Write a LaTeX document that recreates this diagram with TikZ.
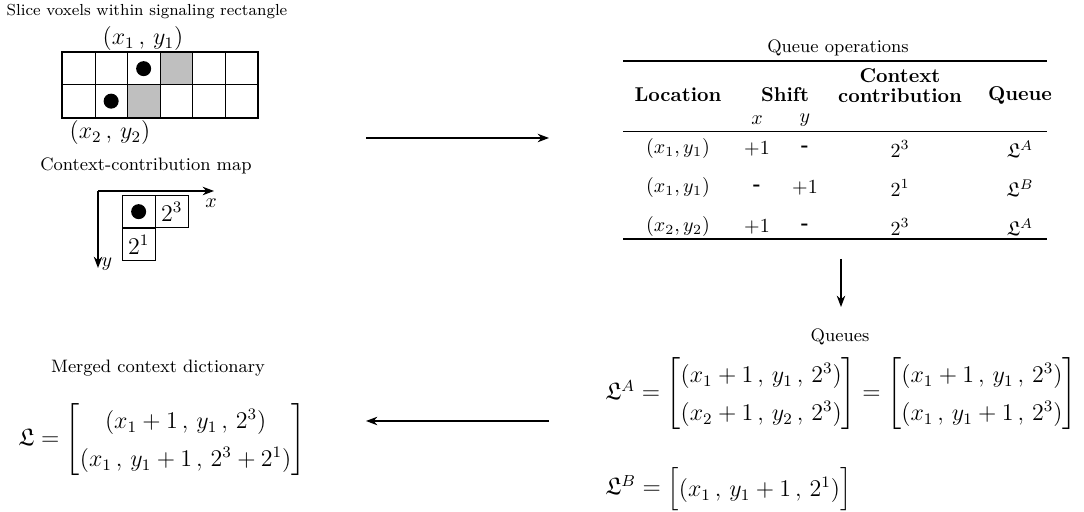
\documentclass[tikz,border=0pt]{standalone}
\usepackage{amsmath,amssymb}
\usepackage{tikz}
\usetikzlibrary{positioning,arrows.meta}

\begin{document}
\begin{tikzpicture}[x=0.5pt,y=-0.5pt,
    captext/.style={font=\small,inner sep=1pt},
    cell/.style={draw,minimum width=16.25pt,minimum height=16.25pt,inner sep=0pt,anchor=north west,font=\large},
    greycell/.style={cell,fill=black!25},
    voxel/.style={circle,fill=black,minimum size=7.5pt,inner sep=0pt},
    arr/.style={-Stealth,semithick},
    hdr/.style={font=\bfseries,align=center},
    eq/.style={font=\large\renewcommand{\arraystretch}{1.35},anchor=west,inner sep=0pt}
  ]
    \useasboundingbox (0,0) rectangle (1084,512);

    % slice with the two voxels
    \node[captext,font=\fontsize{8}{10}\selectfont] (slicecap) at (147,12) {Slice voxels within signaling rectangle};
    \foreach \i in {0,...,5}
      \foreach \j in {0,1}
        \node[cell] (c\i\j) at ({62+32.5*\i},{52+32.5*\j}) {};
    \node[greycell] at (c30.north west) {};
    \node[greycell] at (c21.north west) {};
    \draw[thick] (c00.north west) rectangle (c51.south east);
    \node[voxel] (v1) at (c20) {};
    \node[voxel] (v2) at (c11) {};
    \node[font=\large] (p1) at (143,39) {$(x_1\,,\,y_1)$};
    \node[font=\large] (p2) at (110,133) {$(x_2\,,\,y_2)$};

    % context-contribution map
    \node[captext] (mapcap) at (146,166) {Context-contribution map};
    \node[cell] (m0) at (122,195) {};
    \node[cell] (m1) at (155,195) {$2^3$};
    \node[cell] (m2) at (122,228) {$2^1$};
    \node[voxel] (v3) at (m0) {};
    \coordinate (o) at (98,191);
    \coordinate (xe) at (214,191);
    \coordinate (ye) at (98,268);
    \draw[arr] (o) -- (xe);
    \draw[arr] (o) -- (ye);
    \node (xl) at (211,203) {$x$};
    \node (yl) at (107,264) {$y$};

    % queue operations table
    \node[captext] (tabcap) at (838,48) {Queue operations};
    \draw[line width=0.8pt] (623,61) -- (1047,61);
    \draw[line width=0.5pt] (623,132) -- (1047,132);
    \draw[line width=0.8pt] (623,239) -- (1047,239);
    \node[hdr] (hloc) at (678,95) {Location};
    \node[hdr] (hshift) at (785,95) {Shift};
    \node[hdr] (hctx) at (900,86) {Context\\[-2pt]contribution};
    \node[hdr] (hq) at (1020,95) {Queue};
    \node (hx) at (757,120) {$x$};
    \node (hy) at (805,120) {$y$};
    \node (r1a) at (678,149) {$(x_1,y_1)$};
    \node (r1b) at (757,149) {$+1$};
    \node (r1c) at (805,149) {\textbf{-}};
    \node (r1d) at (900,149) {$2^3$};
    \node (r1e) at (1020,149) {$\mathfrak{L}^A$};
    \node (r2a) at (678,188) {$(x_1,y_1)$};
    \node (r2b) at (757,188) {\textbf{-}};
    \node (r2c) at (805,188) {$+1$};
    \node (r2d) at (900,188) {$2^1$};
    \node (r2e) at (1020,188) {$\mathfrak{L}^B$};
    \node (r3a) at (678,227) {$(x_2,y_2)$};
    \node (r3b) at (757,227) {$+1$};
    \node (r3c) at (805,227) {\textbf{-}};
    \node (r3d) at (900,227) {$2^3$};
    \node (r3e) at (1020,227) {$\mathfrak{L}^A$};

    % queues
    \node[captext] (qcap) at (840,337) {Queues};
    \node[eq] (qa) at (605,394) {$\mathfrak{L}^A=\begin{bmatrix}(x_1+1\,,\,y_1\,,\,2^3)\\(x_2+1\,,\,y_2\,,\,2^3)\end{bmatrix}=\begin{bmatrix}(x_1+1\,,\,y_1\,,\,2^3)\\(x_1\,,\,y_1+1\,,\,2^3)\end{bmatrix}$};
    \node[eq] (qb) at (605,489) {$\mathfrak{L}^B=\begin{bmatrix}(x_1\,,\,y_1+1\,,\,2^1)\end{bmatrix}$};

    % merged dictionary
    \node[captext] (mcap) at (158,368) {Merged context dictionary};
    \node[eq] (md) at (18,440) {$\mathfrak{L}=\begin{bmatrix}(x_1+1\,,\,y_1\,,\,2^3)\\(x_1\,,\,y_1+1\,,\,2^3+2^1)\end{bmatrix}$};

    % arrows between the stages
    \coordinate (a1s) at (366,138);
    \coordinate (a1e) at (549,138);
    \coordinate (a2s) at (841,259);
    \coordinate (a2e) at (841,307);
    \coordinate (a3s) at (549,421);
    \coordinate (a3e) at (366,421);
    \draw[arr] (a1s) -- (a1e);
    \draw[arr] (a2s) -- (a2e);
    \draw[arr] (a3s) -- (a3e);
\end{tikzpicture}
\end{document}
